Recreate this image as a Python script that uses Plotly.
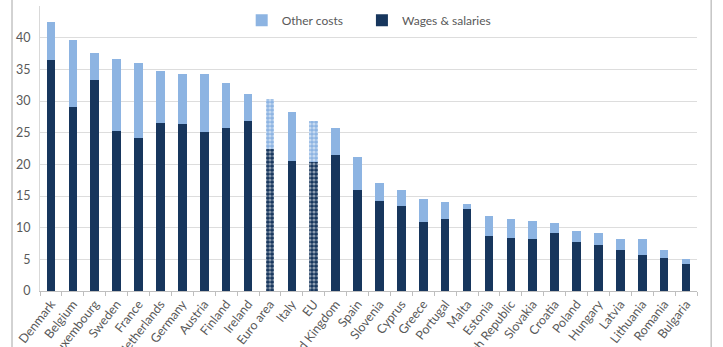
import plotly.graph_objects as go

countries = ["Denmark", "Belgium", "Luxembourg", "Sweden", "France", "Netherlands",
             "Germany", "Austria", "Finland", "Ireland", "Euro area", "Italy", "EU",
             "United Kingdom", "Spain", "Slovenia", "Cyprus", "Greece", "Portugal",
             "Malta", "Estonia", "Czech Republic", "Slovakia", "Croatia", "Poland",
             "Hungary", "Latvia", "Lithuania", "Romania", "Bulgaria"]
wages = [36.5, 29.0, 33.3, 25.3, 24.2, 26.5, 26.4, 25.1, 25.8, 26.8, 22.5, 20.5, 20.4,
         21.4, 15.9, 14.2, 13.4, 10.9, 11.3, 12.9, 8.7, 8.3, 8.2, 9.1, 7.7, 7.3, 6.5,
         5.7, 5.2, 4.3]
total = [42.5, 39.7, 37.6, 36.6, 36.0, 34.8, 34.2, 34.2, 32.8, 31.1, 30.3, 28.2, 26.8,
         25.8, 21.2, 17.0, 16.0, 14.5, 14.1, 13.8, 11.8, 11.4, 11.1, 10.7, 9.4, 9.1, 8.2,
         8.2, 6.4, 5.0]
other = [round(t - w, 2) for t, w in zip(total, wages)]
aggregates = ["Euro area", "EU"]

NAVY = "#17365D"
LIGHT = "#8DB4E2"
shapes_pat = ["." if c in aggregates else "" for c in countries]

fig = go.Figure()
fig.add_trace(go.Bar(
    x=countries, y=wages, name="Wages & salaries", legend="legend2",
    marker=dict(color=NAVY, line=dict(width=0),
                pattern=dict(shape=shapes_pat, fgcolor="white",
                             size=4, solidity=0.5, fillmode="overlay")),
    width=0.39,
))
fig.add_trace(go.Bar(
    x=countries, y=other, name="Other costs", legend="legend",
    marker=dict(color=LIGHT, line=dict(width=0),
                pattern=dict(shape=shapes_pat, fgcolor="white",
                             size=4, solidity=0.5, fillmode="overlay")),
    width=0.39,
))

legend_common = dict(orientation="h", y=0.95, xanchor="left", yanchor="middle",
                     bgcolor="rgba(0,0,0,0)", font=dict(size=12, color="#595959"),
                     itemclick=False)

fig.update_layout(
    barmode="stack",
    width=723, height=347,
    margin=dict(l=40, r=26, t=6, b=56, autoexpand=False),
    paper_bgcolor="white", plot_bgcolor="white",
    font=dict(family="Lato, Liberation Sans, sans-serif", color="#595959", size=11),
    showlegend=True,
    legend=dict(x=0.307, **legend_common),
    legend2=dict(x=0.490, **legend_common),
    xaxis=dict(type="category", tickangle=-52, tickfont=dict(size=12.5, color="#595959"),
               showline=True, linecolor="#BFBFBF", linewidth=1,
               ticks="outside", tickson="boundaries", ticklen=4, tickcolor="#BFBFBF",
               showgrid=False, automargin=False),
    yaxis=dict(range=[0, 45], dtick=5, showgrid=True, gridcolor="#DDDDDD",
               showline=True, linecolor="#D9D9D9", zeroline=False,
               tickfont=dict(size=12.5, color="#595959"), ticks="",
               ticklabelstandoff=6, automargin=False),
    shapes=[
        dict(type="line", xref="paper", yref="paper", x0=-0.0426, x1=-0.0426, y0=-0.3, y1=1.03,
             line=dict(color="#A6A6A6", width=1)),
        dict(type="line", xref="paper", yref="paper", x0=1.0215, x1=1.0215, y0=-0.3, y1=1.03,
             line=dict(color="#A6A6A6", width=1)),
    ],
)

fig.write_html("out.html")
